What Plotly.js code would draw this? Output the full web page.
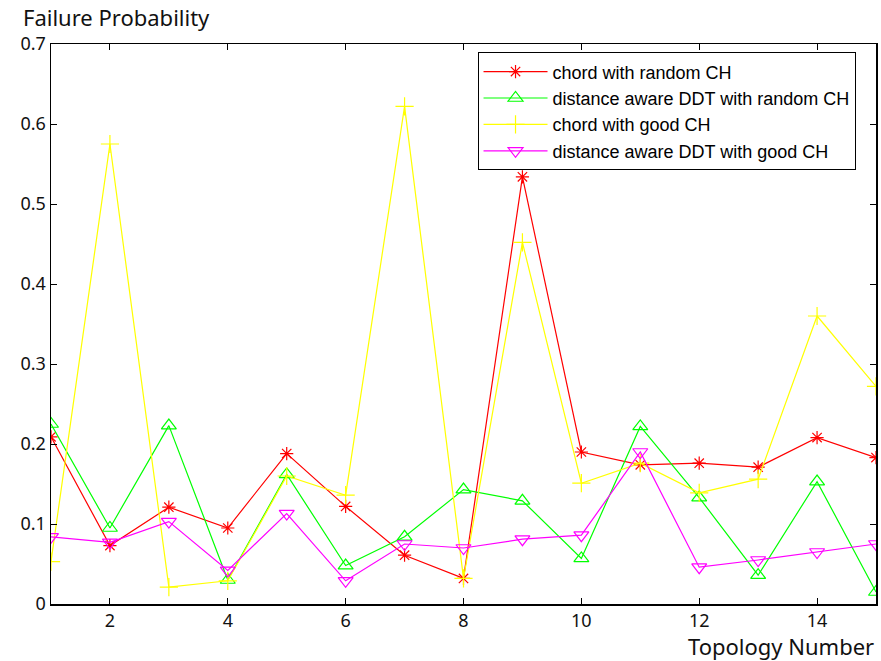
<!DOCTYPE html>
<html>
<head>
<meta charset="utf-8">
<script src="https://cdn.plot.ly/plotly-3.0.1.min.js"></script>
<style>html,body{margin:0;padding:0;background:#fff;}</style>
</head>
<body>
<div id="chart" style="width:881px;height:661px;"></div>
<script>
const topology = [1,2,3,4,5,6,7,8,9,10,11,12,13,14,15];
const chordRandom = [0.209,0.073,0.121,0.095,0.188,0.122,0.061,0.032,0.534,0.190,0.174,0.176,0.171,0.208,0.183];
const ddtRandom   = [0.225,0.095,0.223,0.030,0.162,0.048,0.084,0.143,0.129,0.057,0.222,0.133,0.036,0.153,0.015];
const chordGood   = [0.053,0.575,0.021,0.029,0.160,0.136,0.622,0.032,0.452,0.151,0.176,0.139,0.156,0.360,0.272];
const ddtGood     = [0.084,0.077,0.103,0.042,0.113,0.029,0.075,0.070,0.081,0.086,0.190,0.046,0.055,0.065,0.075];
const seriesNames = ["chord with random CH","distance aware DDT with random CH","chord with good CH","distance aware DDT with good CH"];
const xTicks = [2,4,6,8,10,12,14];
const yTicks = [0,0.1,0.2,0.3,0.4,0.5,0.6,0.7];
const yTickText = ["0","0.1","0.2","0.3","0.4","0.5","0.6","0.7"];

const mk = (y, name, color, symbol, size) => ({
  x: topology, y: y, name: name, type: 'scatter', mode: 'lines+markers',
  line: {color: color, width: 1.2},
  marker: {symbol: symbol, size: size, color: color, line: {color: color, width: 1.2}}
});

const data = [
  mk(chordRandom, seriesNames[0], '#ff0000', 'asterisk-open', 11),
  mk(ddtRandom, seriesNames[1], '#00ff00', 'triangle-up-open', 13),
  mk(chordGood, seriesNames[2], '#ffff00', 'cross-thin-open', 13),
  mk(ddtGood, seriesNames[3], '#ff00ff', 'triangle-down-open', 13)
];

const layout = {
  width: 881, height: 661,
  margin: {l: 51, r: 5, t: 44, b: 57},
  paper_bgcolor: '#fff', plot_bgcolor: '#fff',
  showlegend: true,
  legend: {
    x: 0.517, y: 0.985, xanchor: 'left', yanchor: 'top',
    bordercolor: '#000', borderwidth: 1, bgcolor: '#fff',
    font: {family: 'Liberation Sans, Arial, sans-serif', size: 18, color: '#000'},
    tracegroupgap: 0, itemwidth: 64
  },
  xaxis: {
    range: [1, 15], tickvals: xTicks, ticktext: xTicks.map(String),
    ticks: 'inside', ticklen: 6, tickcolor: '#000', mirror: 'ticks',
    showline: true, linecolor: '#000', linewidth: 1.5, showgrid: false, zeroline: false,
    tickfont: {family: 'Noto Sans, sans-serif', size: 18, color: '#111'}
  },
  yaxis: {
    range: [0, 0.7], tickvals: yTicks, ticktext: yTickText,
    ticks: 'inside', ticklen: 6, tickcolor: '#000', mirror: 'ticks',
    showline: true, linecolor: '#000', linewidth: 1.5, showgrid: false, zeroline: false,
    tickfont: {family: 'Noto Sans, sans-serif', size: 18, color: '#111'}
  },
  annotations: [
    {text: 'Failure Probability', xref: 'paper', yref: 'paper', x: -0.036, y: 1.0, xanchor: 'left', yanchor: 'bottom',
     yshift: 10, showarrow: false, font: {family: 'Noto Sans, sans-serif', size: 22, color: '#111'}},
    {text: 'Topology Number', xref: 'paper', yref: 'paper', x: 1.0, y: 0, xanchor: 'right', yanchor: 'top',
     yshift: -25, showarrow: false, font: {family: 'Noto Sans, sans-serif', size: 22, color: '#111'}}
  ]
};

Plotly.newPlot('chart', data, layout, {displayModeBar: false, staticPlot: true});
</script>
</body>
</html>
